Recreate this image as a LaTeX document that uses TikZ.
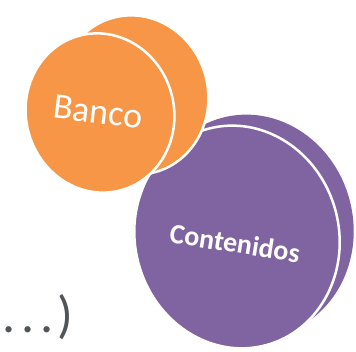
\documentclass[tikz,border=0pt]{standalone}
\usepackage{fontspec}
\setmainfont{Carlito}
\definecolor{bancoorange}{HTML}{F79646}
\definecolor{contpurple}{HTML}{8064A2}
\definecolor{dotsgray}{HTML}{50555A}
\begin{document}
\begin{tikzpicture}[
    x=1pt, y=1pt,
    disc/.style={draw=white, line width=2.5pt},
    label/.style={text=white, inner sep=0pt},
    tail/.style={text=dotsgray, inner sep=0pt, anchor=base west}
]
\useasboundingbox (0,0) rectangle (356,352);

% Contenidos disc
\fill[contpurple] (251,126) ellipse [x radius=102, y radius=112, rotate=15];
\filldraw[disc, fill=contpurple] (237,115) ellipse [x radius=102, y radius=112, rotate=15];

% Banco disc
\filldraw[disc, fill=bancoorange] (134,257) ellipse [x radius=74, y radius=80, rotate=15];
\filldraw[disc, fill=bancoorange] (100,239) ellipse [x radius=74, y radius=80, rotate=15];

% Labels
\node[label, rotate=-7, font=\fontsize{36}{40}\selectfont] (banco) at (98,240) {Banco};
\node[label, rotate=-9, font=\bfseries\fontsize{28}{32}\selectfont] (contenidos) at (235,109) {Contenidos};
\node[tail, font=\fontsize{52}{58}\selectfont] (etc) at (2,19) {.\hspace{6pt}.\hspace{6pt}.\hspace{4pt})};

\end{tikzpicture}
\end{document}
